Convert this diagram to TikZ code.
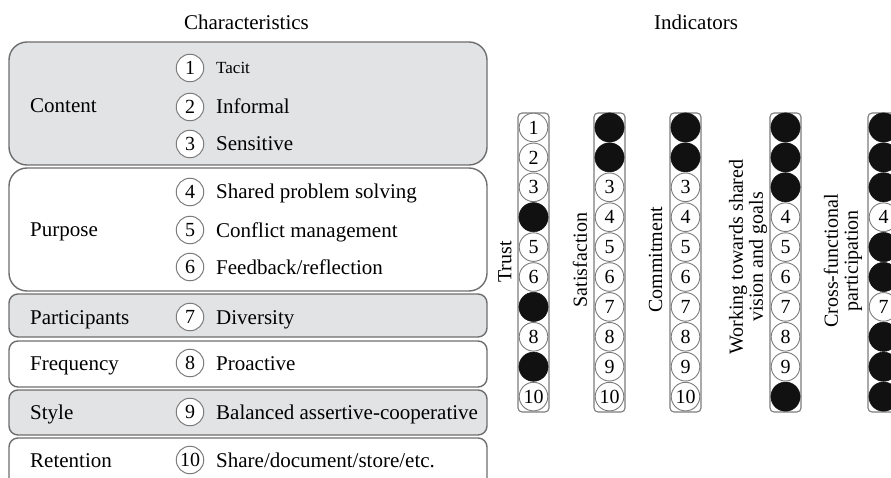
\documentclass[tikz,border=0pt]{standalone}
\usepackage{fontspec}
\setmainfont{Liberation Serif}
\definecolor{boxgrey}{HTML}{E2E3E5}
\definecolor{edgegrey}{HTML}{6E6E6E}
\definecolor{ringgrey}{HTML}{7C7C7C}
\definecolor{dotblack}{HTML}{111111}
\begin{document}
\begin{tikzpicture}[x=1pt,y=-1pt,
  catbox/.style={draw=edgegrey, line width=1.4pt, minimum width=478pt, inner sep=0pt},
  bigbox/.style={catbox, rounded corners=18pt},
  smallbox/.style={catbox, rounded corners=9pt},
  greyfill/.style={fill=boxgrey},
  whitefill/.style={fill=white},
  head/.style={anchor=base, inner sep=0pt, font=\fontsize{21}{24}\selectfont},
  cat/.style={anchor=base west, inner sep=0pt, font=\fontsize{21}{24}\selectfont},
  item/.style={anchor=base west, inner sep=0pt, font=\fontsize{21}{24}\selectfont},
  num/.style={circle, draw=ringgrey, line width=1pt, fill=white, minimum size=27.5pt, inner sep=0pt, font=\fontsize{20}{22}\selectfont},
  colframe/.style={draw=ringgrey, line width=1.1pt, fill=white, rounded corners=4pt, minimum width=31pt, minimum height=299pt, inner sep=0pt},
  ring/.style={circle, draw=ringgrey, line width=0.9pt, fill=white, minimum size=28.6pt, inner sep=0pt, font=\fontsize{20}{22}\selectfont},
  dot/.style={circle, draw=dotblack, line width=0.5pt, fill=dotblack, minimum size=29.2pt, inner sep=0pt},
  collabel/.style={rotate=90, inner sep=0pt, align=center, font=\fontsize{20}{20}\selectfont}
]
\useasboundingbox (0,0) rectangle (891,478);
\clip (0,0) rectangle (891,478);

% headings
\node[head] (hc) at (246.5,30) {Characteristics};
\node[head] (hi) at (696,29.5) {Indicators};

% category boxes
\node[bigbox, greyfill, minimum height=123pt] (bcontent) at (248,103.5) {};
\node[bigbox, whitefill, minimum height=123pt] (bpurpose) at (248,229.5) {};
\node[smallbox, greyfill, minimum height=43pt] (bpart) at (248,315.5) {};
\node[smallbox, whitefill, minimum height=46pt] (bfreq) at (248,364) {};
\node[smallbox, greyfill, minimum height=45pt] (bstyle) at (248,412.5) {};
\node[smallbox, whitefill, minimum height=72pt] (bret) at (248,474) {};

% category labels
\node[cat] (lcontent) at (30,113) {Content};
\node[cat] (lpurpose) at (30,237) {Purpose};
\node[cat] (lpart) at (30,324) {Participants};
\node[cat] (lfreq) at (30,370) {Frequency};
\node[cat] (lstyle) at (30,419) {Style};
\node[cat] (lret) at (30,467) {Retention};

% numbered items
\node[num] (n1) at (190,68) {1};
\node[item, font=\fontsize{17}{20}\selectfont] (t1) at (216,74) {Tacit};
\node[num] (n2) at (190,107) {2};
\node[item] (t2) at (216,114) {Informal};
\node[num] (n3) at (190,144) {3};
\node[item] (t3) at (216,151) {Sensitive};
\node[num] (n4) at (190,192) {4};
\node[item] (t4) at (216,199) {Shared problem solving};
\node[num] (n5) at (190,230) {5};
\node[item] (t5) at (216,238) {Conflict management};
\node[num] (n6) at (190,267) {6};
\node[item] (t6) at (216,274) {Feedback/reflection};
\node[num] (n7) at (190,317) {7};
\node[item] (t7) at (216,324) {Diversity};
\node[num] (n8) at (190,363) {8};
\node[item] (t8) at (216,370) {Proactive};
\node[num] (n9) at (190,412) {9};
\node[item] (t9) at (216,419) {Balanced assertive-cooperative};
\node[num] (n10) at (190,460) {10};
\node[item] (t10) at (216,467) {Share/document/store/etc.};

% indicator columns
\node[colframe] (ft) at (533.5,262.5) {};
\node[colframe] (fs) at (609.5,262.5) {};
\node[colframe] (fc) at (685.5,262.5) {};
\node[colframe] (fw) at (785.5,262.5) {};
\node[colframe] (fx) at (883.5,262.5) {};

\foreach \i in {1,2,3,5,6,8,10} \node[ring] (t-\i) at (533.5,{127.5+29.9*(\i-1)}) {\i};
\foreach \i in {4,7,9} \node[dot] (t-\i) at (533.5,{127.5+29.9*(\i-1)}) {};

\foreach \i in {3,...,10} \node[ring] (s-\i) at (609.5,{127.5+29.9*(\i-1)}) {\i};
\foreach \i in {1,2} \node[dot] (s-\i) at (609.5,{127.5+29.9*(\i-1)}) {};

\foreach \i in {3,...,10} \node[ring] (c-\i) at (685.5,{127.5+29.9*(\i-1)}) {\i};
\foreach \i in {1,2} \node[dot] (c-\i) at (685.5,{127.5+29.9*(\i-1)}) {};

\foreach \i in {4,...,9} \node[ring] (w-\i) at (785.5,{127.5+29.9*(\i-1)}) {\i};
\foreach \i in {1,2,3,10} \node[dot] (w-\i) at (785.5,{127.5+29.9*(\i-1)}) {};

\foreach \i in {4,7} \node[ring] (x-\i) at (883.5,{127.5+29.9*(\i-1)}) {\i};
\foreach \i in {1,2,3,5,6,8,9,10} \node[dot] (x-\i) at (883.5,{127.5+29.9*(\i-1)}) {};

% column labels
\node[collabel] (lt) at (505,262) {Trust};
\node[collabel] (ls) at (580,260) {Satisfaction};
\node[collabel] (lc) at (655.5,260) {Commitment};
\node[collabel] (lw) at (748,257) {Working towards shared\\vision and goals};
\node[collabel] (lx) at (843,261) {Cross-functional\\participation};
\end{tikzpicture}
\end{document}
